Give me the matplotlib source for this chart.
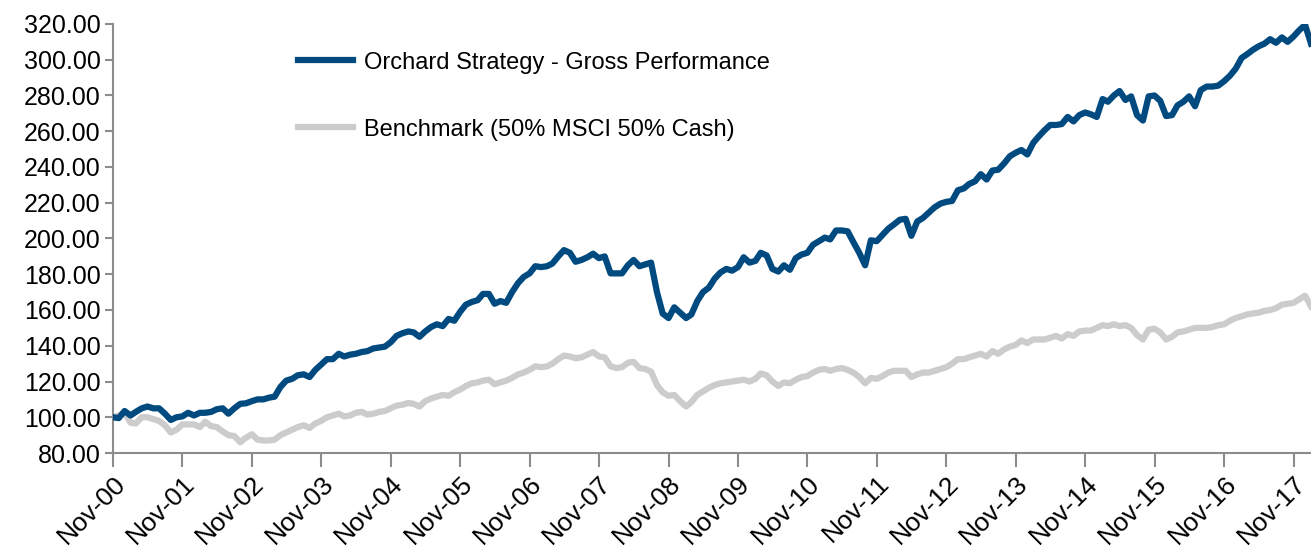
import matplotlib
matplotlib.use("Agg")
import matplotlib.pyplot as plt
import matplotlib.dates as mdates
import pandas as pd

# monthly index values, Nov-00 .. Feb-18
strategy = [
    100, 99.5, 103.5, 101, 103, 105, 106, 105, 105, 102, 98.5, 100,
    100.5, 102.5, 101, 102.5, 102.5, 103, 104.5, 105, 102, 105, 107.5, 107.8,
    109, 110, 110, 111, 111.5, 117, 120.5, 121.5, 123.5, 124, 122.5, 126.5,
    129.5, 132.5, 132.5, 135.5, 134, 135, 135.5, 136.5, 137, 138.5, 139, 139.5,
    142, 145.5, 147, 148, 147.5, 145, 148, 150.5, 152, 151, 155, 154,
    159, 163, 164.5, 165.5, 169, 169, 163.5, 165, 164, 170, 175, 178.5,
    180.5, 184.5, 184, 184.5, 186, 190, 193.5, 192, 187, 188, 189.5, 191.5,
    189, 190, 180.5, 180.5, 180.5, 185, 188, 184.5, 185.5, 186.5, 170, 158,
    155.5, 161.5, 158.5, 155.5, 157.5, 165, 170, 172.5, 177.5, 181, 183, 182,
    184, 189.5, 186.5, 187.5, 192, 190.5, 183, 181.5, 185, 182.5, 189, 191,
    192, 196.5, 198.5, 200.5, 199.5, 204.5, 204.5, 204, 198, 192, 185, 199,
    198.5, 202, 205.5, 208, 210.5, 211, 201.5, 209.5, 211.5, 214.5, 217.5, 219.5,
    220.5, 221, 227, 228, 230.5, 232, 236, 233, 238, 238.5, 242, 246,
    248, 249.5, 247, 253.5, 257, 260.5, 263.5, 263.5, 264, 268, 265.5, 269,
    270.5, 269.5, 268, 278, 276.5, 280, 282.5, 277.5, 279.5, 269, 266, 279.5,
    280, 277, 268.5, 269, 274.5, 276.5, 279.5, 274, 283, 285, 285, 285.5,
    288, 291, 295, 301, 303, 305.5, 307.5, 309, 311.5, 309.5, 312.5, 310,
    313, 316.5, 319.5, 309,
]

benchmark = [
    100, 101, 102.5, 97, 96.5, 100, 100, 99, 98, 95.5, 91.5, 93,
    96, 96, 96, 94.5, 97.5, 95, 94.5, 92, 90, 89.5, 86, 88.5,
    90.5, 87.5, 87, 87, 87.5, 90, 91.5, 93, 94.5, 95.5, 94, 96.5,
    98, 100, 101, 102, 100.5, 101, 102.5, 103, 101.5, 102, 103, 103.5,
    105, 106.5, 107, 108, 107.5, 106, 109, 110.5, 111.5, 112.5, 112, 114,
    115.5, 117.5, 119, 119.5, 120.5, 121, 118.5, 119.5, 120.5, 122, 124, 125,
    126.5, 128.5, 128, 128.5, 130, 132.5, 134.5, 134, 133, 133.5, 135, 136.5,
    134, 133.5, 128.5, 127.5, 128, 130.5, 131, 127.5, 127, 125.5, 118, 114,
    112, 112.5, 109, 106, 108.5, 112.5, 114.5, 116.5, 118, 119, 119.5, 120,
    120.5, 121, 120, 121.5, 124.5, 123.5, 120, 117.5, 119.5, 119, 121, 122.5,
    123, 125, 126.5, 127, 126, 127, 127.5, 126.5, 125, 122.5, 119, 122,
    121.5, 123, 125, 126, 126, 126, 122.5, 124, 125, 125, 126, 127,
    128, 130, 132.5, 132.5, 133.5, 134.5, 135.5, 134, 137, 135.5, 138, 139.5,
    140.5, 143, 141.5, 143.5, 143.5, 143.5, 144.5, 145.5, 144, 146.5, 145.5, 148,
    148.5, 148.5, 150, 151.5, 151, 152, 151, 151.5, 150, 146, 143.5, 149,
    149.5, 147.5, 143.5, 145, 147.5, 148, 149, 150, 150, 150, 150.5, 151.5,
    152, 154, 155.5, 156.5, 157.5, 158, 158.5, 159.5, 160, 161, 163, 163.5,
    164, 166, 168, 162,
]

dates = pd.date_range("2000-11-01", periods=len(strategy), freq="MS")

plt.rcParams["font.family"] = ["Liberation Sans", "DejaVu Sans"]

fig = plt.figure(figsize=(13.11, 5.54), dpi=100)
ax = fig.add_axes([0.0862, 0.1823, 0.9138, 0.7744])

ax.plot(dates, strategy, color="#004a80", lw=4.5, solid_joinstyle="round",
        label="Orchard Strategy - Gross Performance", zorder=3)
ax.plot(dates, benchmark, color="#cccccc", lw=4.5, solid_joinstyle="round",
        label="Benchmark (50% MSCI 50% Cash)", zorder=2)

ax.set_ylim(80, 320)
ax.set_yticks(range(80, 321, 20))
ax.set_yticklabels([f"{v:.2f}" for v in range(80, 321, 20)])
ax.set_xlim(dates[0], dates[-1])

ax.xaxis.set_major_locator(mdates.MonthLocator(bymonth=11))
ax.xaxis.set_major_formatter(mdates.DateFormatter("%b-%y"))

for s in ["top", "right"]:
    ax.spines[s].set_visible(False)
for s in ["left", "bottom"]:
    ax.spines[s].set_color("#8c8c8c")
    ax.spines[s].set_linewidth(1.5)

ax.tick_params(axis="y", direction="out", length=6, width=1.5, color="#8c8c8c",
               labelsize=18, pad=3)
ax.tick_params(axis="x", direction="out", length=10, width=1.5, color="#8c8c8c",
               labelsize=19, pad=3)
for lab in ax.get_xticklabels():
    lab.set_rotation(45)
    lab.set_ha("right")
    lab.set_rotation_mode("anchor")

leg = ax.legend(loc="upper left", bbox_to_anchor=(0.137, 0.985), frameon=False,
                fontsize=17, handlelength=2.3, handletextpad=0.5, labelspacing=1.9)

fig.savefig("out.png", dpi=100)
